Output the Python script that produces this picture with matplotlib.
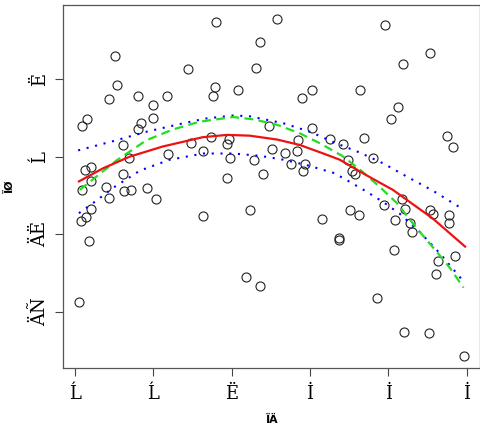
import matplotlib
matplotlib.use("Agg")
import matplotlib.pyplot as plt

# scatter points
xs = [1.80, 2.58, 3.96, 2.36, 4.53, 0.51, 4.19, 1.44, 2.31, 0.54,
      1.79, 2.08, 3.03, 3.64, 0.44, 0.81, 1.18, 1.76, 2.90, 1.00,
      4.12, 0.15, 0.09, 1.00, 4.03, 0.84, 0.80, 2.48, 3.03, 4.75,
      4.83, 1.74, 1.96, 1.94, 1.48, 0.61, 2.85, 3.26, 3.42, 3.69,
      2.52, 1.63, 2.68, 2.83, 1.19, 1.98, 0.69, 2.29, 3.80, 3.49,
      2.76, 2.93, 2.91, 0.13, 0.21, 3.54, 3.58, 0.61, 2.40, 1.94,
      0.21, 0.40, 0.92, 0.62, 0.71, 0.09, 0.43, 1.04, 4.17, 0.20,
      0.08, 0.14, 0.18, 0.05, 1.63, 2.23, 3.15, 3.51, 3.63, 3.37,
      3.37, 3.94, 4.21, 4.08, 4.28, 4.30, 4.53, 4.57, 4.78, 4.78,
      4.07, 4.63, 4.85, 4.61, 2.18, 2.36, 3.86, 4.20, 4.52, 4.97]
ys = [4.73, 4.78, 4.70, 4.48, 4.34, 4.30, 4.20, 4.13, 4.14, 3.92,
      3.90, 3.86, 3.86, 3.86, 3.74, 3.78, 3.78, 3.78, 3.75, 3.67,
      3.64, 3.49, 3.39, 3.50, 3.49, 3.43, 3.35, 3.40, 3.37, 3.26,
      3.12, 3.25, 3.23, 3.16, 3.17, 3.15, 3.21, 3.23, 3.16, 3.24,
      3.10, 3.07, 3.05, 3.07, 3.04, 2.98, 2.98, 2.95, 2.98, 2.95,
      2.90, 2.91, 2.82, 2.83, 2.86, 2.81, 2.78, 2.77, 2.77, 2.72,
      2.69, 2.61, 2.59, 2.56, 2.57, 2.57, 2.47, 2.45, 2.45, 2.33,
      2.17, 2.22, 1.91, 1.13, 2.23, 2.31, 2.19, 2.31, 2.25, 1.93,
      1.95, 2.38, 2.33, 2.18, 2.14, 2.03, 2.31, 2.26, 2.25, 2.14,
      1.80, 1.65, 1.72, 1.49, 1.45, 1.33, 1.18, 0.74, 0.72, 0.43]

# red fit (solid)
fit_x = [0.05, 0.36, 0.70, 1.12, 1.63, 1.94, 2.23, 2.58, 2.87, 3.17, 3.38, 3.72, 4.06, 4.57, 4.98]
fit_y = [2.68, 2.85, 3.00, 3.13, 3.25, 3.28, 3.27, 3.22, 3.15, 3.04, 2.96, 2.76, 2.57, 2.20, 1.84]

# green smooth (dashed)
sm_x = [0.06, 0.27, 0.53, 0.91, 1.25, 1.59, 2.02, 2.28, 2.58, 2.87, 3.13, 3.41, 3.64, 3.89, 4.11, 4.36, 4.62, 4.79, 4.96]
sm_y = [2.57, 2.74, 2.95, 3.21, 3.35, 3.45, 3.51, 3.48, 3.41, 3.30, 3.17, 3.01, 2.83, 2.61, 2.40, 2.08, 1.77, 1.56, 1.31]

# blue bands (dotted)
up_x = [0.04, 0.49, 0.91, 1.34, 1.66, 2.02, 2.23, 2.66, 3.00, 3.34, 3.64, 3.94, 4.24, 4.57, 4.94]
up_y = [3.08, 3.20, 3.32, 3.42, 3.49, 3.53, 3.52, 3.43, 3.32, 3.17, 3.05, 2.91, 2.74, 2.56, 2.33]
lo_x = [0.05, 0.27, 0.49, 0.83, 1.21, 1.64, 2.02, 2.36, 2.66, 2.96, 3.30, 3.43, 3.72, 3.94, 4.15, 4.40, 4.66, 4.96]
lo_y = [2.27, 2.43, 2.60, 2.82, 2.96, 3.04, 3.04, 3.01, 2.96, 2.89, 2.79, 2.72, 2.55, 2.41, 2.26, 2.03, 1.75, 1.39]

x_ticks = [0, 1, 2, 3, 4, 5]
x_labels = ["Ĺ", "Ĺ", "Ë", "İ", "İ", "İ"]
y_ticks = [1, 2, 3, 4]
y_labels = ["ÄÑ", "ÄË", "Ĺ", "Ë"]

fig = plt.figure(figsize=(4.81, 4.34), dpi=100)
ax = fig.add_axes([0.131, 0.152, 0.867, 0.836])

ax.plot(xs, ys, linestyle="none", marker="o", markersize=6.5,
        markerfacecolor="none", markeredgecolor="#222222", markeredgewidth=0.8)
ax.plot(up_x, up_y, color="#0000ff", lw=1.5, linestyle=(0, (1, 3.2)))
ax.plot(lo_x, lo_y, color="#0000ff", lw=1.5, linestyle=(0, (1, 3.2)))
ax.plot(sm_x, sm_y, color="#22dd22", lw=1.6, linestyle=(0, (4, 2.4)))
ax.plot(fit_x, fit_y, color="#ee1111", lw=1.6)

ax.set_xlim(-0.153, 5.171)
ax.set_ylim(0.274, 4.952)
ax.set_xticks(x_ticks)
ax.set_xticklabels(x_labels, family="DejaVu Serif", fontsize=13)
ax.set_yticks(y_ticks)
ax.set_yticklabels(y_labels, family="DejaVu Serif", fontsize=13, rotation=90, va="center")
ax.tick_params(direction="out", length=6, width=0.8, color="#444444", pad=4)
ax.tick_params(axis="x", pad=6)

for s in ax.spines.values():
    s.set_color("#555555")
    s.set_linewidth(0.9)

ax.set_xlabel("ÏÄ", fontsize=8, fontweight="bold", labelpad=9)
ax.set_ylabel("ÏØ", fontsize=8, fontweight="bold", labelpad=12)

fig.savefig("out.png", dpi=100)
